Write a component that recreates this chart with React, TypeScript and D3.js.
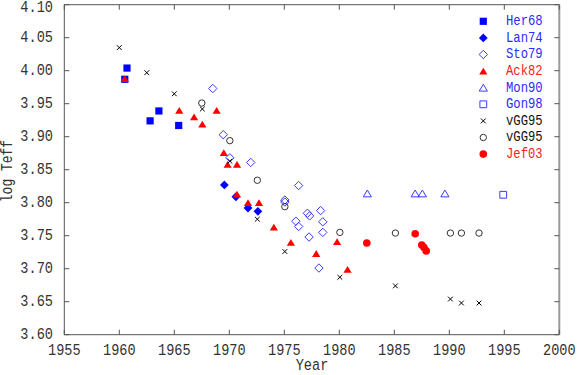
import React from "react";
import * as d3 from "d3";

// values
const her68Year = [1960.5, 1960.7, 1962.8, 1963.6, 1965.4];
const her68Teff = [3.987, 4.004, 3.924, 3.939, 3.917];

const lan74Year = [1969.55, 1970.6, 1971.7, 1972.6];
const lan74Teff = [3.827, 3.809, 3.792, 3.787];

const sto79Year = [1968.5, 1969.45, 1970.05, 1971.95, 1975.05, 1975.05, 1976.3, 1976.05, 1976.3, 1977.1, 1977.3, 1978.3, 1978.5, 1978.5, 1977.25, 1978.15];
const sto79Teff = [3.973, 3.903, 3.868, 3.861, 3.804, 3.801, 3.826, 3.772, 3.764, 3.784, 3.78, 3.788, 3.771, 3.755, 3.748, 3.701];

const ack82Year = [1960.5, 1965.45, 1966.8, 1967.55, 1968.85, 1969.5, 1969.85, 1970.7, 1970.7, 1971.7, 1972.7, 1974.05, 1975.6, 1977.9, 1979.8, 1980.75];
const ack82Teff = [3.988, 3.94, 3.93, 3.919, 3.94, 3.876, 3.858, 3.858, 3.813, 3.8, 3.8, 3.763, 3.74, 3.723, 3.741, 3.699];

const mon90Year = [1982.55, 1986.9, 1987.55, 1989.6];
const mon90Teff = [3.814, 3.814, 3.814, 3.814];

const gon98Year = [1994.9];
const gon98Teff = [3.812];

const vggXYear = [1960, 1962.5, 1965, 1967.55, 1970.05, 1972.55, 1975.05, 1980.05, 1985.1, 1990.1, 1991.1, 1992.7];
const vggXTeff = [4.035, 3.997, 3.965, 3.942, 3.863, 3.775, 3.726, 3.687, 3.674, 3.654, 3.648, 3.648];

const vggOYear = [1967.5, 1970.05, 1972.55, 1975.05, 1980.05, 1985.1, 1990.1, 1991.1, 1992.7];
const vggOTeff = [3.951, 3.894, 3.834, 3.794, 3.755, 3.754, 3.754, 3.754, 3.754];

const jef03Year = [1982.5, 1986.9, 1987.5, 1987.7, 1987.9];
const jef03Teff = [3.739, 3.753, 3.736, 3.732, 3.727];

const xTicks = [1955, 1960, 1965, 1970, 1975, 1980, 1985, 1990, 1995, 2000];
const yTicks = [3.6, 3.65, 3.7, 3.75, 3.8, 3.85, 3.9, 3.95, 4.0, 4.05, 4.1];

const BLUE = "#0000ff";
const OPEN_BLUE = "#3a3aff";
const RED = "#ff0000";

const series = [
  { name: "Her68", years: her68Year, teff: her68Teff, kind: "square", fill: BLUE, stroke: "none", text: "#2a2aff" },
  { name: "Lan74", years: lan74Year, teff: lan74Teff, kind: "diamond", fill: BLUE, stroke: "none", text: "#2a2aff" },
  { name: "Sto79", years: sto79Year, teff: sto79Teff, kind: "diamond", fill: "none", stroke: OPEN_BLUE, text: "#2a2aff" },
  { name: "Ack82", years: ack82Year, teff: ack82Teff, kind: "triangle", fill: RED, stroke: "none", text: "#ff2020" },
  { name: "Mon90", years: mon90Year, teff: mon90Teff, kind: "triangle", fill: "none", stroke: OPEN_BLUE, text: "#2a2aff" },
  { name: "Gon98", years: gon98Year, teff: gon98Teff, kind: "square", fill: "none", stroke: OPEN_BLUE, text: "#2a2aff" },
  { name: "vGG95", years: vggXYear, teff: vggXTeff, kind: "cross", fill: "none", stroke: "#000", text: "#111" },
  { name: "vGG95", years: vggOYear, teff: vggOTeff, kind: "circle", fill: "none", stroke: "#333", text: "#111" },
  { name: "Jef03", years: jef03Year, teff: jef03Teff, kind: "circle", fill: RED, stroke: "none", text: "#ff2020" },
];

function markerPath(kind: string, filled: boolean) {
  const p = d3.path();
  if (kind === "square") {
    const h = filled ? 3.6 : 3.4;
    p.rect(-h, -h, 2 * h, 2 * h);
  } else if (kind === "diamond") {
    const h = filled ? 4.4 : 4.2;
    p.moveTo(0, -h); p.lineTo(h, 0); p.lineTo(0, h); p.lineTo(-h, 0); p.closePath();
  } else if (kind === "triangle") {
    const w = 4.1, t = 3.4;
    p.moveTo(0, -t); p.lineTo(w, t); p.lineTo(-w, t); p.closePath();
  } else if (kind === "cross") {
    const h = 2.4;
    p.moveTo(-h, -h); p.lineTo(h, h); p.moveTo(h, -h); p.lineTo(-h, h);
  } else {
    const r = filled ? 3.8 : 3.2;
    p.arc(0, 0, r, 0, Math.PI * 2);
  }
  return p.toString();
}

const FONT = "'Liberation Mono', monospace";

function Label({ x, y, anchor, size, fill, children, rotate }: any) {
  const tr = `translate(${x},${y})` + (rotate ? ` rotate(${rotate})` : "") + " scale(1,1.2)";
  return (
    <text transform={tr} textAnchor={anchor} fontFamily={FONT} fontSize={size} fill={fill}>
      {children}
    </text>
  );
}

export default function App() {
  const width = 577, height = 375;
  const x = d3.scaleLinear().domain([1955, 2000]).range([64.3, 559.3]);
  const y = d3.scaleLinear().domain([3.6, 4.1]).range([334.7, 4.7]);
  const [x0, x1] = x.range();
  const [y0, y1] = y.range();
  const tl = 5;

  return (
    <svg width={width} height={height} style={{ position: "absolute", left: 0, top: 0, background: "#fff" }}>
      {/* frame */}
      <line x1={x0} x2={x1} y1={y0} y2={y0} stroke="#555" />
      <line x1={x0} x2={x1} y1={y1} y2={y1} stroke="#555" />
      <line x1={x0} x2={x0} y1={y0} y2={y1} stroke="#555" />
      <line x1={x1} x2={x1} y1={y0} y2={y1} stroke="#999" strokeWidth={2} />

      {xTicks.map((t) => (
        <g key={"x" + t}>
          <line x1={x(t)} x2={x(t)} y1={y0} y2={y0 - tl} stroke="#555" />
          <line x1={x(t)} x2={x(t)} y1={y1} y2={y1 + tl} stroke="#555" />
          <Label x={x(t)} y={355} anchor="middle" size={13.6} fill="#333">{String(t)}</Label>
        </g>
      ))}
      {yTicks.map((t) => (
        <g key={"y" + t}>
          <line x1={x0} x2={x0 + tl} y1={y(t)} y2={y(t)} stroke="#555" />
          <line x1={x1} x2={x1 - tl} y1={y(t)} y2={y(t)} stroke="#555" />
          <Label x={53} y={Math.max(y(t) + 4.7, 11.5)} anchor="end" size={13.6} fill="#333">{t.toFixed(2)}</Label>
        </g>
      ))}

      <Label x={312} y={370} anchor="middle" size={13.6} fill="#333">Year</Label>
      <Label x={12} y={171} anchor="middle" size={13} fill="#333" rotate={-90}>log Teff</Label>

      {/* data */}
      {series.map((s, i) => {
        const d = markerPath(s.kind, s.fill !== "none");
        return (
          <g key={"s" + i}>
            {s.years.map((yr, j) => (
              <path key={j} d={d} transform={`translate(${x(yr)},${y(s.teff[j])})`}
                fill={s.fill} stroke={s.stroke} strokeWidth={1} />
            ))}
          </g>
        );
      })}

      {/* legend */}
      {series.map((s, i) => {
        const ly = 21.3 + i * 16.6;
        return (
          <g key={"l" + i}>
            <path d={markerPath(s.kind, s.fill !== "none")} transform={`translate(483.3,${ly})`}
              fill={s.fill} stroke={s.stroke} strokeWidth={1} />
            <Label x={506} y={ly + 3.8} anchor="start" size={12.2} fill={s.text}>{s.name}</Label>
          </g>
        );
      })}
    </svg>
  );
}
